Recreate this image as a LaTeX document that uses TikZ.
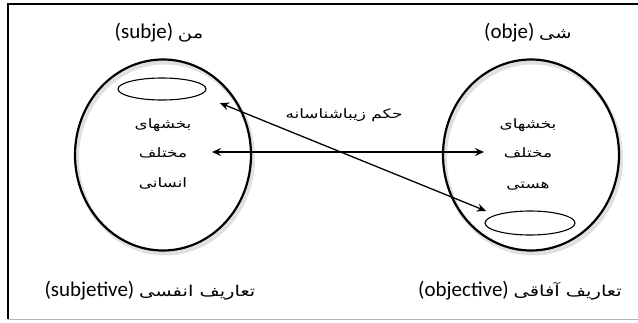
\documentclass[tikz,border=0pt]{standalone}
\usepackage{fontspec}
\setmainfont{Carlito}
\newfontfamily\arabicfont[Script=Arabic]{DejaVu Sans}
\TeXXeTstate=1
\usetikzlibrary{arrows.meta,shapes.geometric}
\newcommand{\ar}[2]{{\arabicfont\fontsize{#1}{#1}\selectfont\scalebox{1.3}[1]{#2}}}
\begin{document}
\begin{tikzpicture}[x=1pt,y=-1pt,
  lbl/.style={font=\fontsize{21}{24}\selectfont, inner sep=0pt},
  inner/.style={inner sep=0pt},
  big/.style={draw, line width=2.2pt, ellipse, inner sep=0pt},
  small/.style={draw, line width=1.1pt, ellipse, inner sep=0pt},
  shad/.style={draw=black!12, line width=4pt, ellipse, inner sep=0pt},
  arr/.style={line width=1.3pt, {Stealth[length=9pt,width=8pt]}-{Stealth[length=9pt,width=8pt]}}]
\useasboundingbox (0,0) rectangle (638,322);
% frame
\draw[line width=2pt] (8,319) -- (8,4) -- (638,4);
\draw[gray!60, line width=0.8pt] (8,319) -- (638,319);
% circle shadows
\node[shad, minimum width=176, minimum height=191] (Lsh) at (165,158) {};
\node[shad, minimum width=176, minimum height=191] (Rsh) at (533,158) {};
% circles
\node[big, minimum width=176, minimum height=191] (L) at (163,155) {};
\node[big, minimum width=176, minimum height=191] (R) at (531,155) {};
\node[small, minimum width=88, minimum height=22] (Ls) at (162,89) {};
\node[small, minimum width=90, minimum height=24] (Rs) at (530,223) {};
% labels
\node[lbl] (tl) at (159,33) {(subje) \ar{15}{\beginR من\endR}};
\node[lbl] (tr) at (528,33) {(obje) \ar{15}{\beginR شی\endR}};
\node[lbl] (bl) at (150,291) {(subjetive) \ar{15}{\beginR تعاریف انفسی\endR}};
\node[lbl] (br) at (520,291) {(objective) \ar{15}{\beginR تعاریف آفاقی\endR}};
% inner texts
\node[inner] (l1) at (163,125) {\ar{13}{\beginR بخشهای\endR}};
\node[inner] (l2) at (163,153) {\ar{13}{\beginR مختلف\endR}};
\node[inner] (l3) at (163,183) {\ar{13}{\beginR انسانی\endR}};
\node[inner] (r1) at (528,125) {\ar{13}{\beginR بخشهای\endR}};
\node[inner] (r2) at (528,153) {\ar{13}{\beginR مختلف\endR}};
\node[inner] (r3) at (528,186) {\ar{13}{\beginR هستی\endR}};
\node[inner] (judg) at (344,115) {\ar{13}{\beginR حکم زیباشناسانه\endR}};
% arrows
\coordinate (hA) at (212,152);
\coordinate (hB) at (484,152);
\coordinate (dA) at (220,103);
\coordinate (dB) at (486,211);
\draw[arr] (hA) -- (hB);
\draw[arr] (dA) -- (dB);
\end{tikzpicture}
\end{document}
